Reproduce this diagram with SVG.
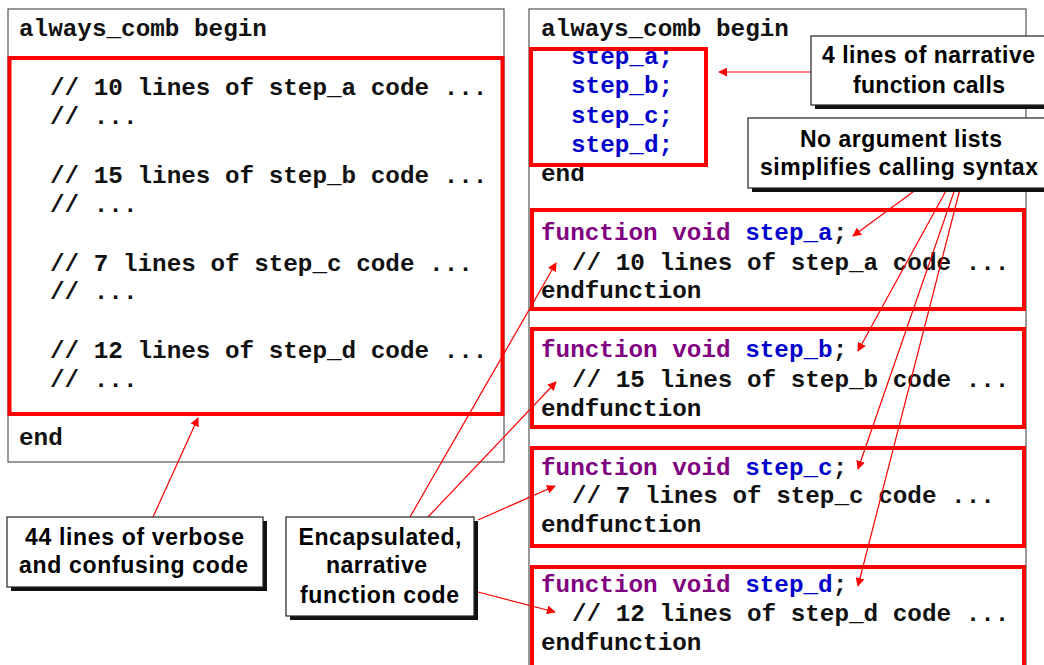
<svg xmlns="http://www.w3.org/2000/svg" width="1044" height="665" viewBox="0 0 1044 665">
<style>
.code{font-family:"Liberation Mono","Courier New",monospace;font-weight:bold;font-size:24.3px;fill:#111;white-space:pre}
.kw{fill:#800080}
.fn{fill:#0000cc}
.panel{fill:#fff;stroke:#555;stroke-width:1.2}
.hl{fill:none;stroke:#ff0000;stroke-width:4}
.shadow{fill:#111}
.call{fill:#fff;stroke:#222;stroke-width:1.2}
.ct{font-family:"Liberation Sans",Arial,sans-serif;font-weight:bold;font-size:23px;fill:#000;text-anchor:middle}
.conn{stroke:#ff0000;stroke-width:1.2;fill:none;marker-end:url(#ah)}
</style>
<defs>
<marker id="ah" viewBox="0 0 10 10" refX="9" refY="5" markerWidth="9" markerHeight="9" markerUnits="userSpaceOnUse" orient="auto">
<path d="M0,0 L10,5 L0,10 z" fill="#ff0000"/>
</marker>
</defs>
<rect width="1044" height="665" fill="#fff"/>

<g id="left-block">
<rect class="panel" x="8" y="9" width="496" height="453"/>
<text class="code" x="19" y="36">always_comb begin</text>
<text class="code" x="50" y="95">// 10 lines of step_a code ...</text>
<text class="code" x="50" y="124">// ...</text>
<text class="code" x="50" y="183">// 15 lines of step_b code ...</text>
<text class="code" x="50" y="212">// ...</text>
<text class="code" x="50" y="271">// 7 lines of step_c code ...</text>
<text class="code" x="50" y="299">// ...</text>
<text class="code" x="50" y="358">// 12 lines of step_d code ...</text>
<text class="code" x="50" y="387">// ...</text>
<text class="code" x="19" y="445">end</text>
<rect class="hl" x="9.5" y="58" width="493" height="356"/>
</g>

<g id="right-block">
<rect class="panel" x="529" y="9" width="497" height="670"/>
<text class="code" x="541" y="36">always_comb begin</text>
<text class="code fn" x="571" y="64">step_a;</text>
<text class="code fn" x="571" y="93">step_b;</text>
<text class="code fn" x="571" y="123">step_c;</text>
<text class="code fn" x="571" y="152">step_d;</text>
<text class="code" x="541" y="181">end</text>
<rect class="hl" x="531" y="49" width="175" height="116"/>
</g>

<g id="func-a">
<rect fill="#fff" stroke="none" x="531" y="208" width="495" height="103"/>
<text class="code" x="541" y="240"><tspan class="kw">function void </tspan><tspan class="fn">step_a</tspan>;</text>
<text class="code" x="572" y="270">// 10 lines of step_a code ...</text>
<text class="code" x="541" y="298">endfunction</text>
<rect class="hl" x="532" y="210" width="492" height="99"/>
</g>

<g id="func-b">
<rect fill="#fff" stroke="none" x="531" y="327" width="495" height="102"/>
<text class="code" x="541" y="357"><tspan class="kw">function void </tspan><tspan class="fn">step_b</tspan>;</text>
<text class="code" x="572" y="387">// 15 lines of step_b code ...</text>
<text class="code" x="541" y="416">endfunction</text>
<rect class="hl" x="532" y="329" width="492" height="98"/>
</g>

<g id="func-c">
<rect fill="#fff" stroke="none" x="531" y="446" width="495" height="102"/>
<text class="code" x="541" y="475"><tspan class="kw">function void </tspan><tspan class="fn">step_c</tspan>;</text>
<text class="code" x="572" y="503">// 7 lines of step_c code ...</text>
<text class="code" x="541" y="532">endfunction</text>
<rect class="hl" x="532" y="448" width="492" height="98"/>
</g>

<g id="func-d">
<rect fill="#fff" stroke="none" x="531" y="565" width="495" height="110"/>
<text class="code" x="541" y="592"><tspan class="kw">function void </tspan><tspan class="fn">step_d</tspan>;</text>
<text class="code" x="572" y="621">// 12 lines of step_d code ...</text>
<text class="code" x="541" y="650">endfunction</text>
<rect class="hl" x="532" y="567" width="492" height="110"/>
</g>

<g id="connectors">
<line class="conn" x1="153" y1="517" x2="198" y2="418"/>
<line class="conn" x1="410" y1="517" x2="556" y2="263"/>
<line class="conn" x1="428" y1="517" x2="556" y2="382"/>
<line class="conn" x1="478" y1="520" x2="555" y2="486"/>
<line class="conn" x1="478" y1="592" x2="555" y2="612"/>
<line class="conn" x1="811" y1="72" x2="719" y2="72"/>
<line class="conn" x1="917" y1="189" x2="853" y2="236"/>
<line class="conn" x1="947" y1="189" x2="858" y2="351"/>
<line class="conn" x1="955" y1="189" x2="858" y2="469"/>
<line class="conn" x1="960" y1="189" x2="858" y2="586"/>
</g>

<g id="note-calls">
<rect class="shadow" x="815" y="40" width="240" height="69"/>
<rect class="call" x="811" y="36" width="240" height="69"/>
<text class="ct" x="928.5" y="63" textLength="213" lengthAdjust="spacing">4 lines of narrative</text>
<text class="ct" x="929" y="93" textLength="152" lengthAdjust="spacing">function calls</text>
</g>

<g id="note-args">
<rect class="shadow" x="752" y="122" width="300" height="70"/>
<rect class="call" x="748" y="118" width="300" height="70"/>
<text class="ct" x="901" y="147" textLength="202" lengthAdjust="spacing">No argument lists</text>
<text class="ct" x="899" y="175" textLength="278" lengthAdjust="spacing">simplifies calling syntax</text>
</g>

<g id="note-verbose">
<rect class="shadow" x="11" y="521" width="256" height="70"/>
<rect class="call" x="7" y="517" width="256" height="70"/>
<text class="ct" x="134.5" y="545" textLength="219" lengthAdjust="spacing">44 lines of verbose</text>
<text class="ct" x="133.5" y="573" textLength="229" lengthAdjust="spacing">and confusing code</text>
</g>

<g id="note-encap">
<rect class="shadow" x="290" y="521" width="188" height="99"/>
<rect class="call" x="286" y="517" width="188" height="99"/>
<text class="ct" x="380" y="545" textLength="163" lengthAdjust="spacing">Encapsulated,</text>
<text class="ct" x="376.5" y="573" textLength="101" lengthAdjust="spacing">narrative</text>
<text class="ct" x="379.5" y="603" textLength="159" lengthAdjust="spacing">function code</text>
</g>
</svg>
